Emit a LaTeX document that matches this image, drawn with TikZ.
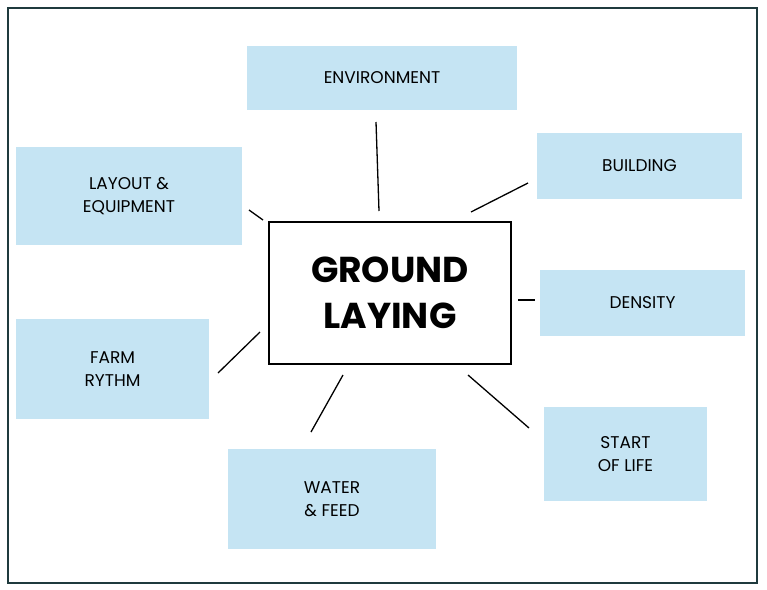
\documentclass[tikz,border=0pt]{standalone}
\usepackage{fontspec}
\setmainfont{Poppins}
\definecolor{boxblue}{HTML}{C5E4F3}
\definecolor{frame}{HTML}{1F3A3D}
\begin{document}
\begin{tikzpicture}[x=1pt,y=-1pt,
  bb/.style={fill=boxblue,draw=none,align=center,font=\fontsize{17}{23}\selectfont},
  ln/.style={line width=1.3pt}]
\useasboundingbox (0,0) rectangle (767,589);
\draw[frame,line width=1.5pt] (8,8) rectangle (757,583);
\node[draw,line width=1.3pt,minimum width=242pt,minimum height=142pt,align=center,font=\fontsize{36}{46}\selectfont\bfseries] (c) at (390,293) {GROUND\\LAYING};
\node[bb,minimum width=270pt,minimum height=64pt] (env) at (382,78) {ENVIRONMENT};
\node[bb,minimum width=205pt,minimum height=66pt] (bld) at (639.5,166) {BUILDING};
\node[bb,minimum width=205pt,minimum height=66pt] (den) at (642.5,303) {DENSITY};
\node[bb,minimum width=163pt,minimum height=94pt] (sol) at (625.5,454) {START\\OF LIFE};
\node[bb,minimum width=208pt,minimum height=100pt] (wf) at (332,499) {WATER\\\& FEED};
\node[bb,minimum width=193pt,minimum height=100pt] (fr) at (112.5,369) {FARM\\RYTHM};
\node[bb,minimum width=226pt,minimum height=98pt] (le) at (129,196) {LAYOUT \&\\EQUIPMENT};
\coordinate (a1) at (376,122); \coordinate (a2) at (379,211);
\coordinate (b1) at (528,183); \coordinate (b2) at (471,212);
\coordinate (d1) at (518,300); \coordinate (d2) at (535,300);
\coordinate (s1) at (468,375); \coordinate (s2) at (529,428);
\coordinate (w1) at (343,375); \coordinate (w2) at (311,432);
\coordinate (f1) at (260,332); \coordinate (f2) at (218,373);
\coordinate (l1) at (249,210); \coordinate (l2) at (263,220);
\draw[ln] (a1)--(a2); \draw[ln] (b1)--(b2); \draw[ln] (d1)--(d2);
\draw[ln] (s1)--(s2); \draw[ln] (w1)--(w2); \draw[ln] (f1)--(f2); \draw[ln] (l1)--(l2);
\end{tikzpicture}
\end{document}
